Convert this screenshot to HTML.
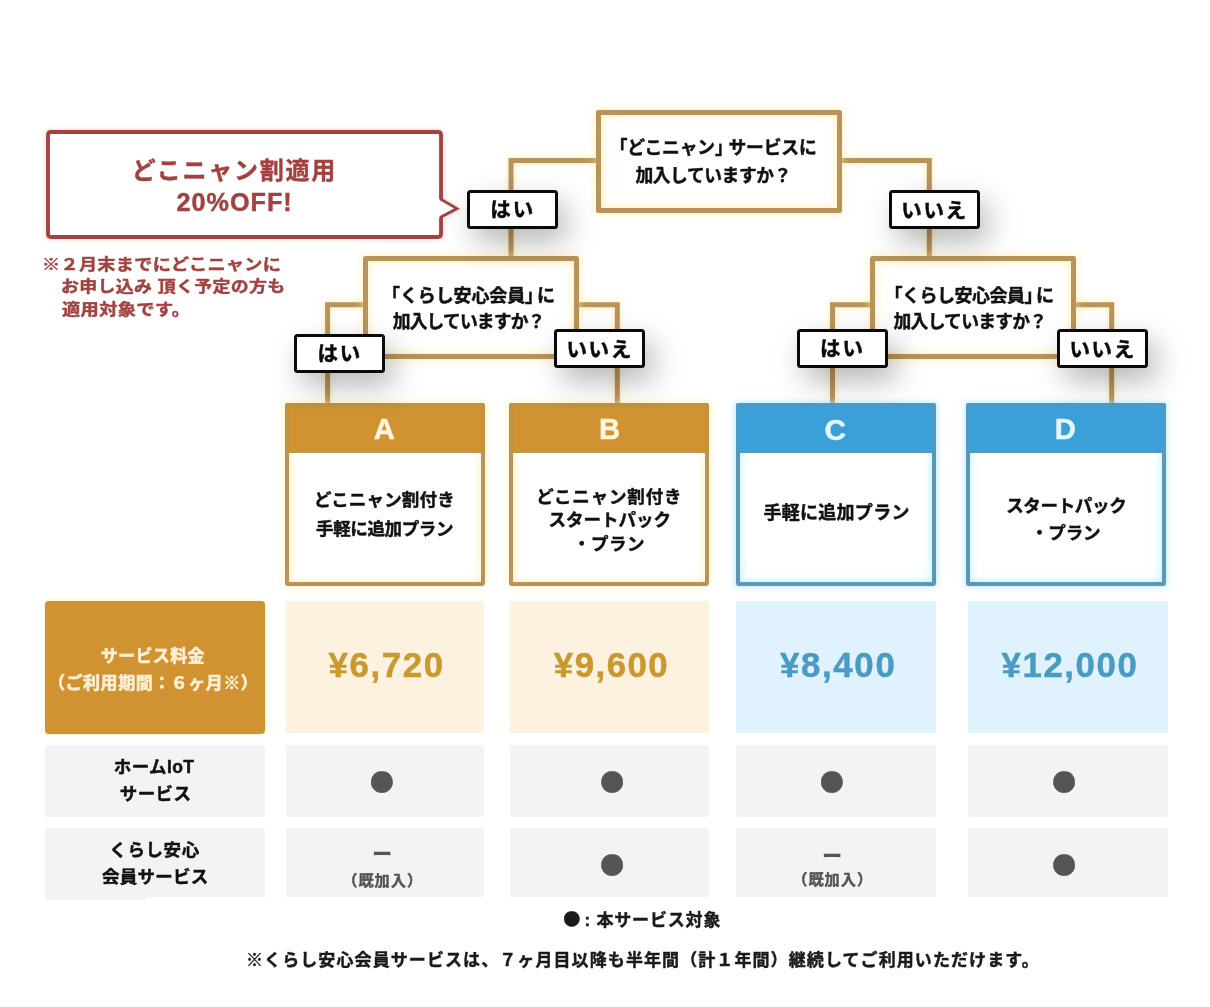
<!DOCTYPE html>
<html lang="ja">
<head>
<meta charset="utf-8">
<title>どこニャン割 プラン診断</title>
<style>
html,body{margin:0;padding:0;background:#fff;}
body{width:1210px;height:1007px;position:relative;overflow:hidden;font-family:"Liberation Sans", "Noto Sans CJK JP", sans-serif;font-weight:700;}
#c{will-change:transform;position:absolute;left:0;top:0;width:1210px;height:1007px;overflow:hidden;}
#c div{position:absolute;box-sizing:border-box;}
#c svg{position:absolute;left:0;top:0;overflow:visible;}
#c .t{white-space:nowrap;line-height:1;font-weight:700;-webkit-text-stroke:0.45px currentColor;}
#c .lb{border:3px solid #0a0a0a;background:#fff;border-radius:3.5px;box-shadow:8px 13px 30px rgba(0,0,0,.29);}
</style>
</head>
<body>
<div id="c">
<svg width="1210" height="1007" viewBox="0 0 1210 1007"><g style="filter:drop-shadow(0 0 3.5px rgba(255,228,150,.8))"><path d="M598 160.6 L511 160.6 L511 258" fill="none" stroke="#b8945a" stroke-width="5" stroke-linejoin="miter"/><path d="M840 160.6 L929.3 160.6 L929.3 258" fill="none" stroke="#b8945a" stroke-width="5" stroke-linejoin="miter"/><path d="M366 304.8 L327.6 304.8 L327.6 405" fill="none" stroke="#b8945a" stroke-width="5" stroke-linejoin="miter"/><path d="M576 304.8 L617.3 304.8 L617.3 405" fill="none" stroke="#b8945a" stroke-width="5" stroke-linejoin="miter"/><path d="M872 304.8 L832.5 304.8 L832.5 405" fill="none" stroke="#b8945a" stroke-width="5" stroke-linejoin="miter"/><path d="M1073 304.8 L1111.7 304.8 L1111.7 405" fill="none" stroke="#b8945a" stroke-width="5" stroke-linejoin="miter"/></g><g style="filter:drop-shadow(0 0 2.5px rgba(255,170,170,.7))"><path d="M441 199 V135 Q441 132 438 132 H51 Q48 132 48 135 V234 Q48 237 51 237 H438 Q441 237 441 234 V217.5" fill="#fff" stroke="#a24240" stroke-width="3.8" stroke-linejoin="round"/><path d="M440 198.8 L457 208.6 L440 217.6" fill="#fff" stroke="#a24240" stroke-width="2.8" stroke-linejoin="miter" stroke-miterlimit="10"/></g></svg>
<div style="left:596.2px;top:110px;width:245.4px;height:102.8px;border:5px solid #b8945a;background:#fff;border-radius:2.5px;box-shadow:0 0 8px 1px rgba(255,232,160,.6), inset 0 0 9px 1px rgba(255,232,150,.6);"></div>
<div style="left:363.3px;top:256.4px;width:215.4px;height:102.6px;border:5px solid #b8945a;background:#fff;border-radius:2.5px;box-shadow:0 0 8px 1px rgba(255,232,160,.6), inset 0 0 9px 1px rgba(255,232,150,.6);"></div>
<div style="left:869.7px;top:256.4px;width:206.2px;height:102.6px;border:5px solid #b8945a;background:#fff;border-radius:2.5px;box-shadow:0 0 8px 1px rgba(255,232,160,.6), inset 0 0 9px 1px rgba(255,232,150,.6);"></div>
<div style="left:285.4px;top:403px;width:199.5px;height:182.8px;background:#fff;border:4.5px solid #b8945a;border-radius:3px;box-shadow:0 0 8px 1px rgba(255,232,160,.6), inset 0 0 9px 1px rgba(255,232,150,.6);"></div>
<div style="left:285.4px;top:403px;width:199.5px;height:50.4px;background:#d19232;border:4.5px solid #c0933f;border-bottom:1.5px solid #b8945a;border-radius:3px 3px 0 0;"></div>
<div style="left:509.2px;top:403px;width:199.7px;height:182.8px;background:#fff;border:4.5px solid #b8945a;border-radius:3px;box-shadow:0 0 8px 1px rgba(255,232,160,.6), inset 0 0 9px 1px rgba(255,232,150,.6);"></div>
<div style="left:509.2px;top:403px;width:199.7px;height:50.4px;background:#d19232;border:4.5px solid #c0933f;border-bottom:1.5px solid #b8945a;border-radius:3px 3px 0 0;"></div>
<div style="left:736.1px;top:403px;width:199.7px;height:182.8px;background:#fff;border:4.5px solid #5a98b6;border-radius:3px;box-shadow:0 0 6px 1px rgba(170,228,255,.8), inset 0 0 9px 1px rgba(160,235,255,.7);"></div>
<div style="left:736.1px;top:403px;width:199.7px;height:50.4px;background:#3ba0da;border:4.5px solid #4a9dcb;border-bottom:1.5px solid #5a98b6;border-radius:3px 3px 0 0;"></div>
<div style="left:966.2px;top:403px;width:199.6px;height:182.8px;background:#fff;border:4.5px solid #5a98b6;border-radius:3px;box-shadow:0 0 6px 1px rgba(170,228,255,.8), inset 0 0 9px 1px rgba(160,235,255,.7);"></div>
<div style="left:966.2px;top:403px;width:199.6px;height:50.4px;background:#3ba0da;border:4.5px solid #4a9dcb;border-bottom:1.5px solid #5a98b6;border-radius:3px 3px 0 0;"></div>
<div class="lb" style="left:467.2px;top:190.2px;width:91px;height:38.8px;"></div>
<div class="lb" style="left:889.0px;top:190.2px;width:91px;height:38.8px;"></div>
<div class="lb" style="left:294.4px;top:334.0px;width:91px;height:38.8px;"></div>
<div class="lb" style="left:554.2px;top:329.3px;width:91px;height:38.8px;"></div>
<div class="lb" style="left:797.0px;top:329.3px;width:91px;height:38.8px;"></div>
<div class="lb" style="left:1057.2px;top:329.3px;width:91px;height:38.8px;"></div>
<div style="left:45.4px;top:601.2px;width:219.8px;height:132.8px;background:#d19232;border-radius:4px;box-shadow:0 0 5px rgba(255,232,160,.7);"></div>
<div style="left:45.4px;top:745.2px;width:219.8px;height:72px;background:#f3f3f3;border-radius:3px;"></div>
<div style="left:45.4px;top:828.2px;width:219.8px;height:69.1px;background:#f3f3f3;border-radius:3px 3px 0 0;"></div>
<div style="left:45.4px;top:897px;width:100.5px;height:2.8px;background:#f3f3f3;"></div>
<div style="left:285.5px;top:601.2px;width:198.9px;height:132.3px;background:#fdf1e0;border-radius:1px;"></div>
<div style="left:285.5px;top:745.2px;width:198.9px;height:72px;background:#f3f3f3;border-radius:3px;"></div>
<div style="left:285.5px;top:828.2px;width:198.9px;height:69.1px;background:#f3f3f3;border-radius:3px 3px 0 0;"></div>
<div style="left:510.3px;top:601.2px;width:198.5px;height:132.3px;background:#fdf1e0;border-radius:1px;"></div>
<div style="left:510.3px;top:745.2px;width:198.5px;height:72px;background:#f3f3f3;border-radius:3px;"></div>
<div style="left:510.3px;top:828.2px;width:198.5px;height:69.1px;background:#f3f3f3;border-radius:3px 3px 0 0;"></div>
<div style="left:736.3px;top:601.2px;width:199.3px;height:132.3px;background:#dff2fd;border-radius:1px;"></div>
<div style="left:736.3px;top:745.2px;width:199.3px;height:72px;background:#f3f3f3;border-radius:3px;"></div>
<div style="left:736.3px;top:828.2px;width:199.3px;height:69.1px;background:#f3f3f3;border-radius:3px 3px 0 0;"></div>
<div style="left:967.6px;top:601.2px;width:200.2px;height:132.3px;background:#dff2fd;border-radius:1px;"></div>
<div style="left:967.6px;top:745.2px;width:200.2px;height:72px;background:#f3f3f3;border-radius:3px;"></div>
<div style="left:967.6px;top:828.2px;width:200.2px;height:69.1px;background:#f3f3f3;border-radius:3px 3px 0 0;"></div>
<div class="t" style="left:618.6px;top:140.2px;font-size:17.8px;color:#111;letter-spacing:-0.16px;font-feature-settings:'halt';">「どこニャン」 サービスに</div>
<div class="t" style="left:635.4px;top:168.3px;font-size:17.8px;color:#111;letter-spacing:-0.43px;">加入していますか？</div>
<div class="t" style="left:391.0px;top:286.5px;font-size:18px;color:#111;letter-spacing:-0.12px;font-feature-settings:'halt';">「くらし安心会員」<span style="margin-left:.17em">に</span></div>
<div class="t" style="left:392.8px;top:313.8px;font-size:17.8px;color:#111;letter-spacing:-0.87px;">加入していますか？</div>
<div class="t" style="left:893.4px;top:286.5px;font-size:18px;color:#111;letter-spacing:-0.5px;font-feature-settings:'halt';">「くらし安心会員」<span style="margin-left:.17em">に</span></div>
<div class="t" style="left:893.6px;top:313.8px;font-size:17.8px;color:#111;letter-spacing:-0.76px;">加入していますか？</div>
<div class="t" style="left:131.7px;top:158.9px;font-size:24px;color:#a24240;letter-spacing:1.76px;">どこニャン割適用</div>
<div class="t" style="left:176.5px;top:189.8px;font-size:25.2px;color:#a24240;letter-spacing:1.01px;">20%OFF!</div>
<div class="t" style="left:42.4px;top:256.5px;font-size:15.6px;color:#a24240;letter-spacing:0.3px;transform-origin:0 0;transform:scaleX(1.1605);">※２月末までにどこニャンに</div>
<div class="t" style="left:60.6px;top:279.2px;font-size:15.6px;color:#a24240;letter-spacing:0.3px;transform-origin:0 0;transform:scaleX(1.1496);">お申し込み 頂く予定の方も</div>
<div class="t" style="left:61.6px;top:302.3px;font-size:15.6px;color:#a24240;letter-spacing:0.3px;transform-origin:0 0;transform:scaleX(1.1688);">適用対象です。</div>
<div class="t" style="left:490.2px;top:200.3px;font-size:20.5px;color:#0a0a0a;letter-spacing:1.95px;-webkit-text-stroke:0.5px #0a0a0a;">はい</div>
<div class="t" style="left:901.2px;top:200.5px;font-size:20.5px;color:#0a0a0a;letter-spacing:1.7px;-webkit-text-stroke:0.5px #0a0a0a;">いいえ</div>
<div class="t" style="left:317.4px;top:344.1px;font-size:20.5px;color:#0a0a0a;letter-spacing:1.95px;-webkit-text-stroke:0.5px #0a0a0a;">はい</div>
<div class="t" style="left:566.4px;top:339.6px;font-size:20.5px;color:#0a0a0a;letter-spacing:1.7px;-webkit-text-stroke:0.5px #0a0a0a;">いいえ</div>
<div class="t" style="left:820.0px;top:339.4px;font-size:20.5px;color:#0a0a0a;letter-spacing:1.95px;-webkit-text-stroke:0.5px #0a0a0a;">はい</div>
<div class="t" style="left:1069.4px;top:339.6px;font-size:20.5px;color:#0a0a0a;letter-spacing:1.7px;-webkit-text-stroke:0.5px #0a0a0a;">いいえ</div>
<div class="t" style="left:373.8px;top:414.9px;font-size:29.2px;color:#fff6dc;">A</div>
<div class="t" style="left:599.0px;top:414.9px;font-size:29.2px;color:#fff6dc;">B</div>
<div class="t" style="left:824.6px;top:414.5px;font-size:29.9px;color:#e4f6ff;">C</div>
<div class="t" style="left:1054.7px;top:414.9px;font-size:29.2px;color:#e4f6ff;">D</div>
<div class="t" style="left:314.0px;top:492.4px;font-size:17.5px;color:#111;letter-spacing:0.17px;">どこニャン割付き</div>
<div class="t" style="left:316.0px;top:521.3px;font-size:17.5px;color:#111;letter-spacing:-0.36px;">手軽に追加プラン</div>
<div class="t" style="left:536.2px;top:488.6px;font-size:17.5px;color:#111;letter-spacing:0.83px;">どこニャン割付き</div>
<div class="t" style="left:548.6px;top:511.8px;font-size:17.5px;color:#111;">スタートパック</div>
<div class="t" style="left:573.0px;top:536.3px;font-size:17.5px;color:#111;letter-spacing:0.5px;">・プラン</div>
<div class="t" style="left:763.4px;top:504.3px;font-size:18px;color:#111;letter-spacing:0.29px;">手軽に追加プラン</div>
<div class="t" style="left:1006.2px;top:498.1px;font-size:17.5px;color:#111;letter-spacing:-0.33px;">スタートパック</div>
<div class="t" style="left:1030.7px;top:525.4px;font-size:17.5px;color:#111;letter-spacing:-0.03px;">・プラン</div>
<div class="t" style="left:100.8px;top:648.1px;font-size:17px;color:#fdf0d5;letter-spacing:0.35px;-webkit-text-stroke:0.6px #fdf0d5;">サービス料金</div>
<div class="t" style="left:48.1px;top:675.4px;font-size:17px;color:#fdf0d5;letter-spacing:0.51px;-webkit-text-stroke:0.6px #fdf0d5;">（ご利用期間：６ヶ月※）</div>
<div class="t" style="left:113.8px;top:759.1px;font-size:17.5px;color:#111;letter-spacing:0.39px;">ホームIoT</div>
<div class="t" style="left:119.8px;top:786.1px;font-size:17.5px;color:#111;letter-spacing:0.4px;">サービス</div>
<div class="t" style="left:109.3px;top:842.0px;font-size:17.5px;color:#111;letter-spacing:0.6px;">くらし安心</div>
<div class="t" style="left:101.9px;top:868.8px;font-size:17.5px;color:#111;letter-spacing:0.28px;">会員サービス</div>
<div class="t" style="left:328.5px;top:647.9px;font-size:34.8px;color:#c9982f;letter-spacing:1.64px;">¥6,720</div>
<div class="t" style="left:553.8px;top:647.9px;font-size:34.8px;color:#c9982f;letter-spacing:1.5px;">¥9,600</div>
<div class="t" style="left:780.0px;top:647.9px;font-size:34.8px;color:#4a9bc3;letter-spacing:1.66px;">¥8,400</div>
<div class="t" style="left:1001.6px;top:647.9px;font-size:34.8px;color:#4a9bc3;letter-spacing:1.56px;">¥12,000</div>
<div class="t" style="left:366.8px;top:753.8px;font-size:50.0px;color:#555;">●</div>
<div class="t" style="left:597.0px;top:753.8px;font-size:50.0px;color:#555;">●</div>
<div class="t" style="left:816.7px;top:753.8px;font-size:50.0px;color:#555;">●</div>
<div class="t" style="left:1049.0px;top:753.8px;font-size:50.0px;color:#555;">●</div>
<div class="t" style="left:597.0px;top:837.0px;font-size:50.0px;color:#555;">●</div>
<div class="t" style="left:1049.0px;top:837.0px;font-size:50.0px;color:#555;">●</div>
<div class="t" style="left:372.2px;top:845.1px;font-size:19.7px;color:#555;">ー</div>
<div class="t" style="left:342.2px;top:872.9px;font-size:15.2px;color:#555;letter-spacing:1.01px;">（既加入）</div>
<div class="t" style="left:822.2px;top:847.1px;font-size:19.7px;color:#555;">ー</div>
<div class="t" style="left:792.2px;top:872.0px;font-size:15.2px;color:#555;letter-spacing:1.01px;">（既加入）</div>
<div class="t" style="left:561.1px;top:900.0px;font-size:35.8px;color:#1a1a1a;">●</div>
<div class="t" style="left:584.4px;top:911.6px;font-size:17px;color:#1a1a1a;letter-spacing:0.83px;">: 本サービス対象</div>
<div class="t" style="left:246.0px;top:951.6px;font-size:17px;color:#1a1a1a;letter-spacing:1.09px;">※くらし安心会員サービスは、７ヶ月目以降も半年間（計１年間）継続してご利用いただけます。</div>
</div>
</body>
</html>
